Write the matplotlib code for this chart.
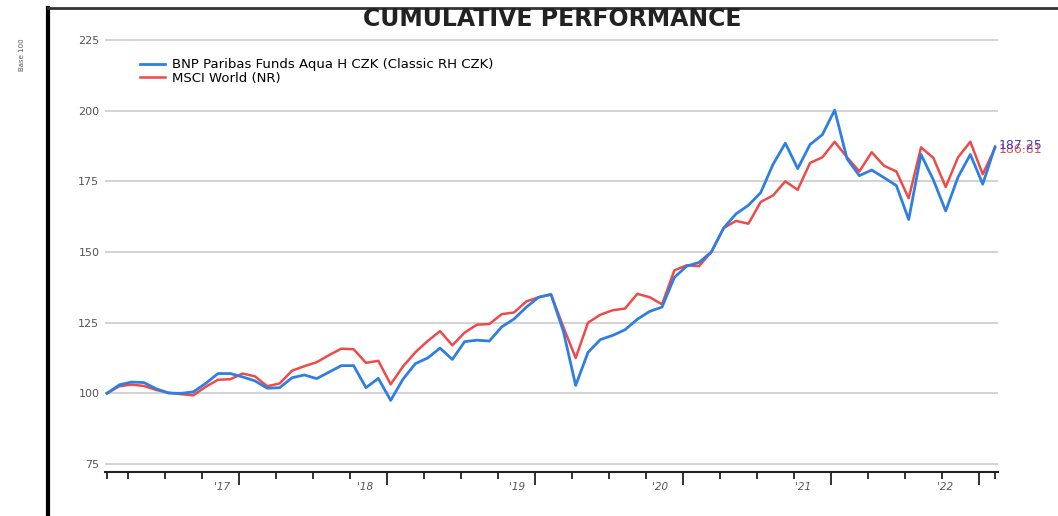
#!/usr/bin/env python3

import matplotlib
matplotlib.use('Agg')
import matplotlib.pyplot as plt
from matplotlib.lines import Line2D
from matplotlib.transforms import blended_transform_factory

# Monthly values, base 100
fund = [100, 103, 104, 103.8, 101.6, 100.1, 100, 100.5, 103.5, 107, 107, 105.8,
        104.4, 101.8, 102, 105.5, 106.5, 105.2, 107.5, 109.8, 109.8, 102, 105.3, 97.5,
        105, 110.5, 112.5, 116, 112, 118.3, 118.8, 118.5, 123.5, 126.3, 130.5, 134,
        135, 122, 102.8, 114.5, 119, 120.5, 122.5, 126.2, 129, 130.5, 141, 145,
        146.3, 150, 158.5, 163.5, 166.5, 171, 181, 188.5, 179.5, 188, 191.5, 200.2,
        183, 177, 179, 176.3, 173.5, 161.5, 184.5, 175.5, 164.5, 176.5, 184.5, 174,
        187.25]
index = [100, 102.5, 103.1, 102.6, 101.2, 100.2, 99.7, 99.3, 102.3, 104.8, 105, 107,
         106, 102.5, 103.5, 108, 109.6, 111, 113.5, 115.8, 115.6, 110.8, 111.5, 103.2,
         109.5, 114.5, 118.5, 122, 117, 121.5, 124.3, 124.5, 128, 128.6, 132.5, 134,
         135, 123.5, 112.5, 125, 127.8, 129.4, 130, 135.2, 134, 131.5, 143.5, 145.3,
         145, 150, 158.5, 161, 160, 167.7, 170, 175, 172, 181.5, 183.5, 189,
         183.5, 178.5, 185.3, 180.5, 178.5, 169, 187, 183.3, 173, 183.5, 189, 177.5,
         186.81]
months = list(range(len(fund)))

fund_name = 'BNP Paribas Funds Aqua H CZK (Classic RH CZK)'
index_name = 'MSCI World (NR)'
year_labels = ["'17", "'18", "'19", "'20", "'21", "'22"]
y_ticks = [75, 100, 125, 150, 175, 200, 225]

blue = '#2f7fe3'
red = '#ef4a4a'
grey = '#555555'

if __name__ == "__main__":
    W, H = 1058, 516
    fig = plt.figure(figsize=(W / 100, H / 100), dpi=100)
    ax = fig.add_axes([105 / W, (H - 472) / H, 893 / W, 435 / H])

    l_idx, = ax.plot(months, index, color=red, lw=1.8, label=index_name, zorder=3)
    l_fund, = ax.plot(months, fund, color=blue, lw=2.0, label=fund_name, zorder=4)

    ax.set_xlim(-0.16, 72.24)
    ax.set_ylim(72.17, 226.06)

    # grid and y axis
    ax.set_yticks(y_ticks)
    ax.yaxis.grid(True, color='#cccccc', lw=1.2)
    ax.tick_params(axis='y', length=0, pad=4, labelsize=8, labelcolor=grey)
    for s in ['top', 'right', 'left']:
        ax.spines[s].set_visible(False)
    ax.spines['bottom'].set_color('#222222')
    ax.spines['bottom'].set_linewidth(1.5)

    # x axis: quarterly ticks, longer ones at each year
    long_ticks = [10.7 + 12 * i for i in range(6)]
    short_ticks = [0] + [1.7 + 3 * i for i in range(24)] + [72]
    short_ticks = [t for t in short_ticks if all(abs(t - l) > 0.5 for l in long_ticks)]
    ax.set_xticks(long_ticks)
    ax.set_xticks(short_ticks, minor=True)
    ax.tick_params(axis='x', which='major', length=9, width=1.3, color='#222222', labelbottom=False)
    ax.tick_params(axis='x', which='minor', length=5, width=1.3, color='#222222')
    trans = blended_transform_factory(ax.transData, ax.transAxes)
    label_shift = [1.35, 1.75, 1.45, 1.85, 2.25, 2.75]
    for pos, sh, lab in zip(long_ticks, label_shift, year_labels):
        ax.text(pos - sh, -0.035, lab, transform=trans, ha='center', va='center',
                fontsize=7.5, color=grey, style='italic')

    # end value labels (drawn on top of each other, as in the factsheet)
    ax.text(72.3, index[-1] - 0.4, '%.2f' % index[-1], color=red, fontsize=9,
            va='center', ha='left', clip_on=False)
    ax.text(72.3, fund[-1] + 0.4, '%.2f' % fund[-1], color='#3b3fcc', fontsize=9,
            va='center', ha='left', clip_on=False)

    ax.legend(handles=[l_fund, l_idx], loc='upper left', bbox_to_anchor=(0.032, 0.966),
              frameon=False, prop={'size': 9.5}, handlelength=1.9, handletextpad=0.5,
              labelspacing=0.05, borderpad=0)

    # title, side label and page frame
    fig.text(552 / W, 1 - 19 / H, 'CUMULATIVE PERFORMANCE', ha='center', va='center',
             fontsize=17, fontweight='bold', color='#222222')
    fig.text(22 / W, 1 - 55 / H, 'Base 100', rotation=90, ha='center', va='center',
             fontsize=5, color=grey)
    fig.add_artist(Line2D([48 / W, 48 / W], [0, 1 - 8 / H], color='black', lw=3))
    fig.add_artist(Line2D([48 / W, 1], [1 - 8 / H, 1 - 8 / H], color='#333333', lw=2))

    fig.savefig('out.png', dpi=100)
